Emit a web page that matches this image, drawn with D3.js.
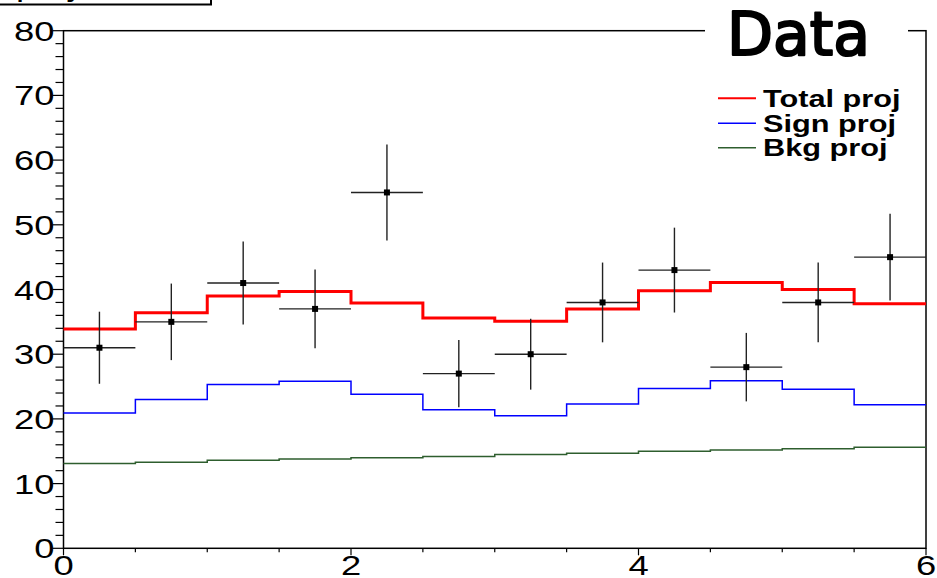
<!DOCTYPE html>
<html lang="en">
<head>
<meta charset="UTF-8">
<title>proj</title>
<script src="https://d3js.org/d3.v7.min.js"></script>
<style>
    html, body { margin: 0; padding: 0; background: #fff; }
    svg { display: block; }
    .tick-label { font-family: "Liberation Sans", Arial, sans-serif; font-size: 28px; fill: #000; }
    .leg-label { font-family: "Liberation Sans", Arial, sans-serif; font-size: 24px; font-weight: bold; fill: #000; }
</style>
</head>
<body>
<svg id="chart"></svg>
<script>
// bin centres of the 12 bins between 0 and 6
const binCenters = [0.25, 0.75, 1.25, 1.75, 2.25, 2.75, 3.25, 3.75, 4.25, 4.75, 5.25, 5.75];
const binWidth = 0.5;

// observed counts (errors are sqrt(N))
const dataCounts = [31, 35, 41, 37, 55, 27, 30, 38, 43, 28, 38, 45];

// fitted projections per bin
const totalProj = [33.9, 36.4, 39.0, 39.7, 37.9, 35.6, 35.1, 37.0, 39.8, 41.1, 40.0, 37.8];
const signProj  = [20.9, 23.0, 25.3, 25.8, 23.8, 21.4, 20.5, 22.3, 24.7, 25.9, 24.6, 22.2];
const bkgProj   = [13.1, 13.3, 13.6, 13.8, 14.0, 14.2, 14.5, 14.7, 15.0, 15.2, 15.4, 15.6];

const xTickLabels = [0, 2, 4, 6];
const yTickLabels = [0, 10, 20, 30, 40, 50, 60, 70, 80];

const legendNames = ["Total proj", "Sign proj", "Bkg proj"];
const legendColors = ["#ff0000", "#0000ff", "#2e5e2e"];

const W = 937, H = 578;
const frame = { left: 63.5, right: 926, top: 30.7, bottom: 548.3 };
const stretch = 1.3; // labels are drawn horizontally widened

const svg = d3.select("#chart").attr("width", W).attr("height", H);
svg.append("rect").attr("width", W).attr("height", H).attr("fill", "#fff");

const x = d3.scaleLinear().domain([0, 6]).range([frame.left, frame.right]);
const y = d3.scaleLinear().domain([0, 80]).range([frame.bottom, frame.top]);

// title box, mostly above the visible area
svg.append("rect")
    .attr("x", -2).attr("y", -40).attr("width", 213).attr("height", 44.5)
    .attr("fill", "#fff").attr("stroke", "#000").attr("stroke-width", 2);
svg.append("text")
    .attr("class", "tick-label")
    .attr("transform", `translate(16,-4) scale(${stretch},1)`)
    .text("proj");

// frame
svg.append("rect")
    .attr("x", frame.left).attr("y", frame.top)
    .attr("width", frame.right - frame.left).attr("height", frame.bottom - frame.top)
    .attr("fill", "none").attr("stroke", "#000").attr("stroke-width", 1.5);

// y axis ticks (outside, to the left)
const yTicks = d3.range(0, 80.01, 2);
svg.append("g").selectAll("line").data(yTicks).join("line")
    .attr("x1", d => frame.left - (d % 10 === 0 ? 11 : 8))
    .attr("x2", frame.left)
    .attr("y1", d => y(d)).attr("y2", d => y(d))
    .attr("stroke", "#000").attr("stroke-width", 1.2);

svg.append("g").selectAll("text").data(yTickLabels).join("text")
    .attr("class", "tick-label")
    .attr("text-anchor", "end")
    .attr("transform", d => `translate(54.5,${y(d) + 10}) scale(${stretch},1)`)
    .text(d => d);

// x axis ticks (below the axis)
const xTicks = d3.range(0, 6.01, 0.5);
svg.append("g").selectAll("line").data(xTicks).join("line")
    .attr("x1", d => x(d)).attr("x2", d => x(d))
    .attr("y1", frame.bottom)
    .attr("y2", d => frame.bottom + (d % 2 === 0 ? 7 : 4))
    .attr("stroke", "#000").attr("stroke-width", 1.2);

svg.append("g").selectAll("text").data(xTickLabels).join("text")
    .attr("class", "tick-label")
    .attr("text-anchor", "middle")
    .attr("transform", d => `translate(${x(d)},574.5) scale(${stretch},1)`)
    .text(d => d);

// step histograms
function stepPoints(vals) {
    const pts = vals.map((v, i) => [binCenters[i] - binWidth / 2, v]);
    pts.push([binCenters[binCenters.length - 1] + binWidth / 2, vals[vals.length - 1]]);
    return pts;
}
const stepLine = d3.line()
    .x(d => x(d[0])).y(d => y(d[1]))
    .curve(d3.curveStepAfter);

const series = [
    { vals: bkgProj, color: legendColors[2], w: 1.5 },
    { vals: signProj, color: legendColors[1], w: 1.5 },
    { vals: totalProj, color: legendColors[0], w: 3 }
];
svg.append("g").selectAll("path").data(series).join("path")
    .attr("d", d => stepLine(stepPoints(d.vals)))
    .attr("fill", "none")
    .attr("stroke", d => d.color)
    .attr("stroke-width", d => d.w);

// data points with sqrt(N) errors
const pts = dataCounts.map((n, i) => ({ xc: binCenters[i], n, err: Math.sqrt(n) }));
const gData = svg.append("g");
gData.selectAll("line.h").data(pts).join("line")
    .attr("class", "h")
    .attr("x1", d => x(d.xc - binWidth / 2)).attr("x2", d => x(d.xc + binWidth / 2))
    .attr("y1", d => y(d.n)).attr("y2", d => y(d.n))
    .attr("stroke", "#222").attr("stroke-width", 1.4);
gData.selectAll("line.v").data(pts).join("line")
    .attr("class", "v")
    .attr("x1", d => x(d.xc)).attr("x2", d => x(d.xc))
    .attr("y1", d => y(d.n - d.err)).attr("y2", d => y(d.n + d.err))
    .attr("stroke", "#222").attr("stroke-width", 1.4);
gData.selectAll("rect").data(pts).join("rect")
    .attr("x", d => x(d.xc) - 3).attr("y", d => y(d.n) - 3)
    .attr("width", 6).attr("height", 6)
    .attr("fill", "#000");

// legend box
const leg = svg.append("g");
leg.append("rect")
    .attr("x", 705).attr("y", 0).attr("width", 203).attr("height", 168)
    .attr("fill", "#fff");
leg.append("text")
    .attr("x", 727).attr("y", 55)
    .attr("font-family", "'Comic Sans MS', 'DejaVu Sans', sans-serif")
    .attr("font-size", 61)
    .attr("textLength", 143)
    .attr("lengthAdjust", "spacingAndGlyphs")
    .attr("fill", "#000")
    .attr("stroke", "#000")
    .attr("stroke-width", 2.2)
    .attr("stroke-linejoin", "round")
    .text("Data");

const legY = [98.3, 123.3, 147.7];
legendNames.forEach((name, i) => {
    leg.append("line")
        .attr("x1", 718).attr("x2", 756)
        .attr("y1", legY[i]).attr("y2", legY[i])
        .attr("stroke", legendColors[i])
        .attr("stroke-width", i === 0 ? 2 : 1.5);
    leg.append("text")
        .attr("class", "leg-label")
        .attr("transform", `translate(763,${legY[i] + 8.5}) scale(1.28,1)`)
        .text(name);
});
</script>
</body>
</html>
